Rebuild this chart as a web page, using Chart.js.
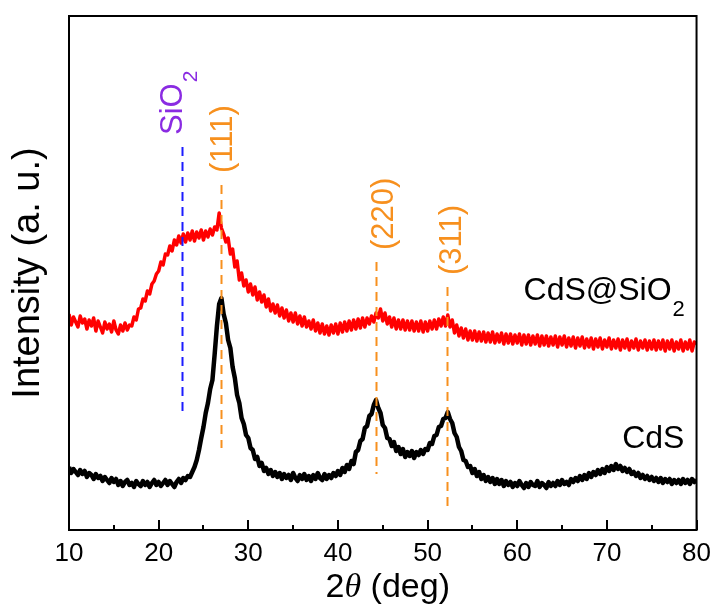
<!DOCTYPE html>
<html><head><meta charset="utf-8">
<script src="https://cdn.jsdelivr.net/npm/chart.js@4.4.1/dist/chart.umd.min.js"></script>
<style>html,body{margin:0;padding:0;background:#fff;}#wrap{width:719px;height:612px;}</style>
</head><body><div id="wrap"><canvas id="c" width="719" height="612"></canvas></div>
<script>
// 2θ grid of the scan (deg)
const angleStart = 10;
const angleStep = 0.25;
// CdS pattern (a. u.), one row per degree
const cdsIntensity = [
 63,57,61,58, 55,60,56,59, 53,57,55,51, 56,52,54,49, 53,50,47,52,
 48,51,45,49, 44,48,50,45, 47,43,49,46, 44,49,45,48, 43,47,50,45,
 48,44,47,50, 45,49,46,43, 48,51,47,52, 50,54,53,58, 63,70,80,92,
 103,117,127,141, 150,176,204,226, 232,216,207,190, 182,163,152,135, 127,112,106,95,
 92,82,80,71, 73,64,67,59, 62,56,60,54, 58,53,57,51, 56,52,55,50,
 57,52,49,55, 51,56,50,54, 49,55,51,57, 52,50,56,51, 55,52,57,54,
 59,55,62,58, 65,61,69,66, 78,80,89,91, 102,104,114,116, 125,130,122,117,
 105,102,92,91, 84,88,79,83, 76,81,73,78, 74,79,72,78, 75,80,76,81,
 80,87,86,94, 95,103,104,111, 112,118,111,107, 97,93,83,79, 70,69,63,64,
 57,61,54,58, 51,55,49,53, 48,52,46,51, 46,50,44,49, 45,48,43,47,
 44,49,45,42, 47,43,48,45, 44,49,43,47, 45,42,48,44, 47,44,49,45,
 50,46,48,45, 51,48,52,49, 54,50,55,51, 57,53,58,55, 60,56,61,57,
 63,59,64,60, 66,61,64,59, 62,58,61,56, 58,54,57,52, 55,51,54,50,
 53,49,52,48, 52,47,51,48, 51,46,50,47, 50,46,51,47, 50,46,51,48,
 50
];
// CdS@SiO2 pattern (a. u., stacked offset), one row per degree
const cdsSio2Intensity = [
 216,205,213,208, 203,214,207,211, 201,210,204,212, 199,209,203,197, 208,201,206,198,
 209,200,196,205, 199,207,200,205, 204,213,210,221, 222,231,229,239, 236,246,249,256,
 259,268,265,276, 275,284,279,290, 285,294,287,296, 288,297,290,299, 289,298,292,300,
 290,299,293,301, 295,303,300,317, 302,296,288,292, 276,281,263,269, 250,257,244,250,
 238,246,235,243, 230,238,228,235, 223,231,219,226, 217,225,214,222, 212,220,209,217,
 208,217,206,214, 204,213,203,209, 201,210,199,207, 197,206,196,204, 195,205,197,206,
 196,207,198,208, 199,209,200,210, 201,211,202,212, 203,212,206,214, 208,217,212,221,
 209,217,206,213, 203,212,201,210, 201,210,200,209, 200,209,199,208, 199,209,198,208,
 199,209,201,210, 201,211,204,213, 204,215,203,210, 197,205,194,202, 192,201,190,199,
 190,199,189,198, 189,198,188,197, 188,198,187,196, 188,197,186,196, 187,196,186,195,
 187,196,185,195, 186,195,185,194, 186,195,184,194, 185,194,184,193, 185,194,183,193,
 185,194,183,192, 184,193,182,192, 184,193,182,191, 183,192,181,191, 183,192,181,190,
 183,192,181,190, 182,191,180,190, 182,191,180,189, 182,191,180,189, 182,190,180,189,
 181,190,180,189, 181,190,179,189, 181,190,179,188, 181,190,179,188, 181,190,179,188,
 186
];
const xTickValues = [10,20,30,40,50,60,70,80];
// reference peak markers
const refAngles = [22.6, 26.9, 44.3, 52.2];
const refNames = ['SiO', '(111)', '(220)', '(311)'];
const refSubs = ['2', '', '', ''];
const refTop = [383, 345, 268, 243];
const refBottom = [119, 82, 56, 24];
// series labels
const seriesNames = ['CdS@SiO', 'CdS'];
const seriesSubs = ['2', ''];
const seriesLabelAngle = [60.7, 71.7];
const seriesLabelLevel = [230, 82];

const FONT = '"Liberation Sans", Arial, Helvetica, sans-serif';
const refLineColors = ['#1c1cff', '#f7901e', '#f7901e', '#f7901e'];
const refLabelColors = ['#8a2be2', '#f7901e', '#f7901e', '#f7901e'];
const refLabelOffset = [0, 11, 17, 14];

function toPoints(arr) {
  return arr.map((v, i) => ({x: angleStart + i * angleStep, y: v}));
}

const decor = {
  id: 'decor',
  afterDatasetsDraw(chart) {
    const ctx = chart.ctx, xs = chart.scales.x, ys = chart.scales.y;
    ctx.save();
    ctx.lineWidth = 2;
    ctx.setLineDash([9, 6]);
    refAngles.forEach((a, i) => {
      const x = Math.round(xs.getPixelForValue(a)) + 0.5;
      ctx.strokeStyle = refLineColors[i];
      ctx.beginPath();
      ctx.moveTo(x, ys.getPixelForValue(refTop[i]));
      ctx.lineTo(x, ys.getPixelForValue(refBottom[i]));
      ctx.stroke();
    });
    ctx.setLineDash([]);
    refAngles.forEach((a, i) => {
      const x = xs.getPixelForValue(a) + refLabelOffset[i];
      const y = ys.getPixelForValue(refTop[i]) - 12;
      ctx.save();
      ctx.translate(x, y);
      ctx.rotate(-Math.PI / 2);
      ctx.fillStyle = refLabelColors[i];
      ctx.textAlign = 'left';
      ctx.textBaseline = 'alphabetic';
      ctx.font = '31px ' + FONT;
      ctx.fillText(refNames[i], 0, 0);
      if (refSubs[i]) {
        const w = ctx.measureText(refNames[i]).width;
        ctx.font = '21px ' + FONT;
        ctx.fillText(refSubs[i], w + 1, 15);
      }
      ctx.restore();
    });
    seriesNames.forEach((n, i) => {
      const x = xs.getPixelForValue(seriesLabelAngle[i]);
      const y = ys.getPixelForValue(seriesLabelLevel[i]);
      ctx.fillStyle = '#000';
      ctx.textAlign = 'left';
      ctx.textBaseline = 'alphabetic';
      ctx.font = '32px ' + FONT;
      ctx.fillText(n, x, y);
      if (seriesSubs[i]) {
        const w = ctx.measureText(n).width;
        ctx.font = '22px ' + FONT;
        ctx.fillText(seriesSubs[i], x + w + 1, y + 16);
      }
    });
    ctx.restore();
  },
  afterDraw(chart) {
    const ctx = chart.ctx, a = chart.chartArea, xs = chart.scales.x;
    ctx.save();
    ctx.strokeStyle = '#000';
    ctx.lineWidth = 2;
    ctx.strokeRect(a.left, a.top, a.right - a.left, a.bottom - a.top);
    for (let v = xs.min; v <= xs.max; v += 5) {
      const x = Math.round(xs.getPixelForValue(v));
      const len = (v % 10 === 0) ? 10 : 5;
      ctx.beginPath();
      ctx.moveTo(x, a.bottom);
      ctx.lineTo(x, a.bottom - len);
      ctx.stroke();
    }
    const parts = [
      {t: '2', f: '34px ' + FONT},
      {t: 'θ', f: 'italic 34px "Liberation Serif", "Times New Roman", serif'},
      {t: ' (deg)', f: '34px ' + FONT}
    ];
    let total = 0;
    parts.forEach(p => { ctx.font = p.f; p.w = ctx.measureText(p.t).width; total += p.w; });
    let x = (a.left + a.right) / 2 + 5 - total / 2;
    const y = 597;
    ctx.fillStyle = '#000';
    ctx.textBaseline = 'alphabetic';
    ctx.textAlign = 'left';
    parts.forEach(p => { ctx.font = p.f; ctx.fillText(p.t, x, y); x += p.w; });
    ctx.restore();
  }
};

new Chart(document.getElementById('c'), {
  type: 'line',
  data: {
    datasets: [
      {label: 'CdS', data: toPoints(cdsIntensity), borderColor: '#000000', borderWidth: 4.5, borderJoinStyle: 'round', pointRadius: 0, tension: 0, fill: false},
      {label: 'CdS@SiO2', data: toPoints(cdsSio2Intensity), borderColor: '#ff0000', borderWidth: 3.5, borderJoinStyle: 'round', pointRadius: 0, tension: 0, fill: false}
    ]
  },
  options: {
    responsive: false,
    animation: false,
    devicePixelRatio: 1,
    layout: {padding: {top: 16, right: 19, left: 0, bottom: 0}},
    plugins: {legend: {display: false}, tooltip: {enabled: false}},
    scales: {
      x: {
        type: 'linear', min: 10, max: 80,
        afterBuildTicks: s => { s.ticks = xTickValues.map(v => ({value: v})); },
        ticks: {font: {size: 26, family: FONT}, color: '#000', padding: 8, maxRotation: 0, autoSkip: false},
        grid: {display: false, drawTicks: false},
        border: {display: false},
        afterFit: s => { s.height = 82; }
      },
      y: {
        min: 0, max: 514,
        ticks: {display: false},
        grid: {display: false, drawTicks: false},
        border: {display: false},
        title: {display: true, text: 'Intensity (a. u.)', color: '#000', font: {size: 38, family: FONT}, padding: {top: 6, bottom: 0}},
        afterFit: s => { s.width = 69; }
      }
    }
  },
  plugins: [decor]
});
</script></body></html>
